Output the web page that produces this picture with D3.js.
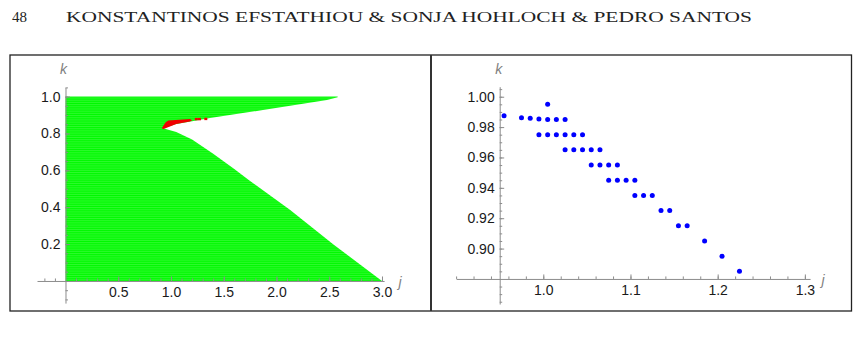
<!DOCTYPE html>
<html>
<head>
<meta charset="utf-8">
<script src="https://cdn.jsdelivr.net/npm/d3@7"></script>
<style>
  body { margin: 0; background: #fff; }
  svg { display: block; }
  .tick text { font-family: "Liberation Sans", Arial, sans-serif; font-size: 14px; fill: #1a1a1a; }
  .axis path, .axis line { stroke: #8c8c8c; }
  .axis-label { font-family: "Liberation Sans", Arial, sans-serif; font-size: 14px; font-style: italic; fill: #808080; }
</style>
</head>
<body>
<div id="chart"></div>
<script>
// Left panel: outline of the green region (j, k)
const lowerEdge = [[0.925, 0.828], [1.05, 0.808], [1.20, 0.768], [1.40, 0.69], [1.60, 0.608],
  [1.74, 0.547], [2.13, 0.385], [2.54, 0.198], [3.0, 0.0]];
const upperEdge = [[0.925, 0.828], [1.05, 0.852], [1.20, 0.866], [1.37, 0.8845], [1.872, 0.927],
  [2.478, 0.982], [2.58, 0.997]];
const topK = 1.0;

// Red sliver near the cusp
const redSliver = [[0.912, 0.828], [0.95, 0.861], [0.975, 0.870], [1.18, 0.878], [1.20, 0.872],
  [1.18, 0.865], [1.05, 0.851], [0.93, 0.825]];
const redDots = [[1.24, 0.878], [1.27, 0.878], [1.33, 0.879]];

// Right panel: blue points (j, k)
const bluePoints = [
  [0.955, 0.9875], [0.975, 0.9862], [0.985, 0.9858], [0.995, 0.9853], [1.005, 0.985], [1.015, 0.985], [1.025, 0.985],
  [1.005, 0.995],
  [0.995, 0.975], [1.005, 0.975], [1.015, 0.975], [1.025, 0.975], [1.035, 0.975], [1.045, 0.975],
  [1.025, 0.965], [1.035, 0.965], [1.045, 0.965], [1.055, 0.965], [1.065, 0.965],
  [1.055, 0.955], [1.065, 0.955], [1.075, 0.955], [1.085, 0.955],
  [1.075, 0.945], [1.085, 0.945], [1.095, 0.945], [1.105, 0.945],
  [1.105, 0.935], [1.115, 0.935], [1.125, 0.935],
  [1.135, 0.925], [1.145, 0.925],
  [1.155, 0.915], [1.165, 0.915],
  [1.185, 0.905], [1.205, 0.895], [1.225, 0.885]
];

// Tick values
const leftXMajor = [0.5, 1.0, 1.5, 2.0, 2.5, 3.0];
const leftYMajor = [0.2, 0.4, 0.6, 0.8, 1.0];
const rightXMajor = [1.0, 1.1, 1.2, 1.3];
const rightYMajor = [0.90, 0.92, 0.94, 0.96, 0.98, 1.00];

const W = 859, H = 341;
const svg = d3.select('#chart').append('svg').attr('width', W).attr('height', H);

// Page header
svg.append('text').attr('x', 12).attr('y', 22)
  .attr('font-family', '"Liberation Serif", "DejaVu Serif", serif').attr('font-size', 15).attr('fill', '#222')
  .text('48');
svg.append('text').attr('x', 66).attr('y', 22)
  .attr('font-family', '"Liberation Serif", "DejaVu Serif", serif').attr('font-size', 15).attr('fill', '#222')
  .attr('textLength', 686).attr('lengthAdjust', 'spacingAndGlyphs')
  .text('KONSTANTINOS EFSTATHIOU & SONJA HOHLOCH & PEDRO SANTOS');

// Frame
svg.append('rect').attr('x', 10).attr('y', 55).attr('width', 841.5).attr('height', 256)
  .attr('fill', 'none').attr('stroke', '#222').attr('stroke-width', 1.3);
svg.append('line').attr('x1', 431).attr('x2', 431).attr('y1', 55).attr('y2', 311)
  .attr('stroke', '#333').attr('stroke-width', 2);

// helper for Mathematica-like axes (ticks pointing inward)
function steps(a, b, s) {
  const out = [];
  for (let i = Math.ceil(a / s - 1e-6); i * s <= b + 1e-9; i++) out.push(+(i * s).toFixed(4));
  return out;
}

function drawAxes(g, x, y, x0, y0, xMajor, yMajor, xMinorStep, yMinorStep, xFmt, yFmt) {
  const xd = x.domain(), yd = y.domain();
  const xMinor = steps(xd[0], xd[1], xMinorStep).filter(v => Math.abs(v - x0) > 1e-6);
  const yMinor = steps(yd[0], yd[1], yMinorStep).filter(v => Math.abs(v - y0) > 1e-6);

  const gx = g.append('g').attr('class', 'axis').attr('transform', `translate(0,${y(y0)})`);
  gx.call(d3.axisBottom(x).tickValues(xMinor).tickSize(-2.5).tickSizeOuter(0).tickFormat(''));
  gx.append('g').call(d3.axisBottom(x).tickValues(xMajor).tickSize(-4.5).tickSizeOuter(0)
    .tickPadding(6).tickFormat(xFmt)).select('.domain').remove();

  const gy = g.append('g').attr('class', 'axis').attr('transform', `translate(${x(x0)},0)`);
  gy.call(d3.axisLeft(y).tickValues(yMinor).tickSize(-2.5).tickSizeOuter(0).tickFormat(''));
  gy.append('g').call(d3.axisLeft(y).tickValues(yMajor).tickSize(-4.5).tickSizeOuter(0)
    .tickPadding(5).tickFormat(yFmt)).select('.domain').remove();

  g.selectAll('.axis .tick line').attr('stroke', '#8c8c8c');
}

// ---------- Left panel ----------
const xL = d3.scaleLinear().domain([-0.27, 3.02]).range([37, 384.1]);
const yL = d3.scaleLinear().domain([-0.12, 1.05]).range([303.1, 87.4]);
const left = svg.append('g');

const defs = svg.append('defs');
const pat = defs.append('pattern').attr('id', 'rows').attr('patternUnits', 'userSpaceOnUse')
  .attr('width', 4).attr('height', 1.84);
pat.append('rect').attr('width', 4).attr('height', 1.84).attr('fill', '#00f800');
pat.append('rect').attr('y', 1.4).attr('width', 4).attr('height', 0.44).attr('fill', '#5cff5c');

const greenOutline = [[0, 0]].concat(lowerEdge.slice().reverse(), upperEdge.slice(1),
  [[upperEdge[upperEdge.length - 1][0], topK], [0, topK]]);
const line = d3.line().x(d => xL(d[0])).y(d => yL(d[1]));

left.append('path').attr('d', line(greenOutline) + 'Z').attr('fill', 'url(#rows)');
left.append('path').attr('d', line(redSliver) + 'Z').attr('fill', '#f00000');
left.selectAll('.rdot').data(redDots).enter().append('rect')
  .attr('x', d => xL(d[0]) - 1.5).attr('y', d => yL(d[1]) - 1.2)
  .attr('width', 3).attr('height', 2.4).attr('fill', '#f00000');

drawAxes(left, xL, yL, 0, 0, leftXMajor, leftYMajor, 0.1, 0.05, d3.format('.1f'), d3.format('.1f'));
left.append('text').attr('class', 'axis-label').attr('x', xL(0) - 2).attr('y', 74)
  .attr('text-anchor', 'middle').text('k');
left.append('text').attr('class', 'axis-label').attr('x', 400).attr('y', 287)
  .attr('text-anchor', 'middle').text('j');

// ---------- Right panel ----------
const xR = d3.scaleLinear().domain([0.90, 1.306]).range([456.1, 810.1]);
const yR = d3.scaleLinear().domain([0.8635, 1.0066]).range([304.0, 86.7]);
const right = svg.append('g');

drawAxes(right, xR, yR, 0.95, 0.88, rightXMajor, rightYMajor, 0.02, 0.005, d3.format('.1f'), d3.format('.2f'));

right.selectAll('circle').data(bluePoints).enter().append('circle')
  .attr('cx', d => xR(d[0])).attr('cy', d => yR(d[1]))
  .attr('r', 2.5).attr('fill', '#0000ff');

right.append('text').attr('class', 'axis-label').attr('x', xR(0.95) - 1).attr('y', 74)
  .attr('text-anchor', 'middle').text('k');
right.append('text').attr('class', 'axis-label').attr('x', 823).attr('y', 285)
  .attr('text-anchor', 'middle').text('j');
</script>
</body>
</html>
